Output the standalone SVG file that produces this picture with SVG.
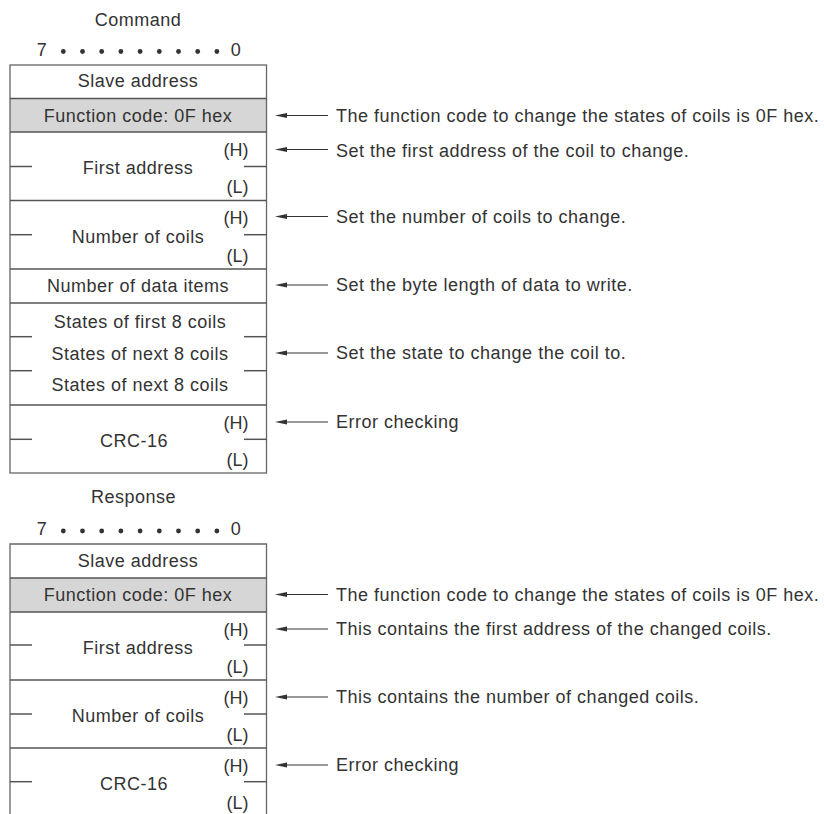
<svg xmlns="http://www.w3.org/2000/svg" width="824" height="814" viewBox="0 0 824 814">
<style>
text{font-family:"Liberation Sans",Arial,sans-serif;font-size:18px;letter-spacing:0.5px;fill:#333}
.c{text-anchor:middle}
.r{text-anchor:end;letter-spacing:0}
.box{fill:none;stroke:#666;stroke-width:1.3}
.div{stroke:#555;stroke-width:1.5}
.tick{stroke:#555;stroke-width:1.5}
.fc{fill:#d6d6d6;stroke:none}
.arr{stroke:#333;stroke-width:1}
.dot{fill:#333}
</style>
<defs>
<marker id="ah" viewBox="0 0 12 6" refX="0" refY="3" markerWidth="12" markerHeight="6" markerUnits="userSpaceOnUse" orient="auto">
<path d="M12,3 L0,0.6 L0,5.4 Z" fill="#333"/>
</marker>
<g id="bits">
<text x="42" y="0" class="c">7</text>
<circle class="dot" cx="63.3" cy="-4" r="2.4"/>
<circle class="dot" cx="82.5" cy="-4" r="2.4"/>
<circle class="dot" cx="101.7" cy="-4" r="2.4"/>
<circle class="dot" cx="120.9" cy="-4" r="2.4"/>
<circle class="dot" cx="140.1" cy="-4" r="2.4"/>
<circle class="dot" cx="159.3" cy="-4" r="2.4"/>
<circle class="dot" cx="178.5" cy="-4" r="2.4"/>
<circle class="dot" cx="197.7" cy="-4" r="2.4"/>
<circle class="dot" cx="216.9" cy="-4" r="2.4"/>
<text x="236" y="0" class="c">0</text>
</g>
</defs>

<!-- Command -->
<g id="command-title"><text x="138" y="25.5" class="c">Command</text></g>
<g id="command-bits"><use href="#bits" y="55.5"/></g>

<g id="command-table">
<rect class="fc" x="10" y="98.5" width="256.5" height="33.5"/>
<rect class="box" x="10" y="65" width="256.5" height="408"/>
<g id="c-slave"><text x="138" y="87" class="c">Slave address</text></g>
<line class="div" x1="10" y1="98.5" x2="266.5" y2="98.5"/>
<g id="c-func"><text x="138" y="121.5" class="c">Function code: 0F hex</text></g>
<line class="div" x1="10" y1="132" x2="266.5" y2="132"/>
<g id="c-first">
<text x="248.5" y="155.5" class="r">(H)</text>
<text x="138" y="174" class="c">First address</text>
<text x="248.5" y="193" class="r">(L)</text>
<line class="tick" x1="10" y1="166.5" x2="32" y2="166.5"/>
<line class="tick" x1="244" y1="166.5" x2="266.5" y2="166.5"/>
</g>
<line class="div" x1="10" y1="200.5" x2="266.5" y2="200.5"/>
<g id="c-coils">
<text x="248.5" y="224" class="r">(H)</text>
<text x="138" y="242.5" class="c">Number of coils</text>
<text x="248.5" y="261.5" class="r">(L)</text>
<line class="tick" x1="10" y1="234.7" x2="32" y2="234.7"/>
<line class="tick" x1="244" y1="234.7" x2="266.5" y2="234.7"/>
</g>
<line class="div" x1="10" y1="269" x2="266.5" y2="269"/>
<g id="c-data"><text x="138" y="291.5" class="c">Number of data items</text></g>
<line class="div" x1="10" y1="303" x2="266.5" y2="303"/>
<g id="c-states">
<text x="140" y="327.5" class="c">States of first 8 coils</text>
<text x="140" y="359.5" class="c">States of next 8 coils</text>
<text x="140" y="391" class="c">States of next 8 coils</text>
<line class="tick" x1="10" y1="336.7" x2="32" y2="336.7"/>
<line class="tick" x1="244" y1="336.7" x2="266.5" y2="336.7"/>
<line class="tick" x1="10" y1="370.7" x2="32" y2="370.7"/>
<line class="tick" x1="244" y1="370.7" x2="266.5" y2="370.7"/>
</g>
<line class="div" x1="10" y1="405" x2="266.5" y2="405"/>
<g id="c-crc">
<text x="248.5" y="428.5" class="r">(H)</text>
<text x="134" y="447" class="c">CRC-16</text>
<text x="248.5" y="466" class="r">(L)</text>
<line class="tick" x1="10" y1="439.3" x2="32" y2="439.3"/>
<line class="tick" x1="244" y1="439.3" x2="266.5" y2="439.3"/>
</g>
</g>

<!-- Response -->
<g id="response-title"><text x="133.5" y="502.5" class="c">Response</text></g>
<g id="response-bits"><use href="#bits" y="535"/></g>

<g id="response-table">
<rect class="fc" x="10" y="578" width="256.5" height="34"/>
<path class="box" d="M10,814 V544 H266.5 V814"/>
<g id="r-slave"><text x="138" y="566.5" class="c">Slave address</text></g>
<line class="div" x1="10" y1="578" x2="266.5" y2="578"/>
<g id="r-func"><text x="138" y="600.5" class="c">Function code: 0F hex</text></g>
<line class="div" x1="10" y1="612" x2="266.5" y2="612"/>
<g id="r-first">
<text x="248.5" y="635.5" class="r">(H)</text>
<text x="138" y="653.5" class="c">First address</text>
<text x="248.5" y="672.5" class="r">(L)</text>
<line class="tick" x1="10" y1="645" x2="32" y2="645"/>
<line class="tick" x1="244" y1="645" x2="266.5" y2="645"/>
</g>
<line class="div" x1="10" y1="680" x2="266.5" y2="680"/>
<g id="r-coils">
<text x="248.5" y="703.5" class="r">(H)</text>
<text x="138" y="722" class="c">Number of coils</text>
<text x="248.5" y="741" class="r">(L)</text>
<line class="tick" x1="10" y1="714" x2="32" y2="714"/>
<line class="tick" x1="244" y1="714" x2="266.5" y2="714"/>
</g>
<line class="div" x1="10" y1="748" x2="266.5" y2="748"/>
<g id="r-crc">
<text x="248.5" y="771.5" class="r">(H)</text>
<text x="134" y="789.5" class="c">CRC-16</text>
<text x="248.5" y="809" class="r">(L)</text>
<line class="tick" x1="10" y1="781.7" x2="32" y2="781.7"/>
<line class="tick" x1="244" y1="781.7" x2="266.5" y2="781.7"/>
</g>
</g>

<!-- Connectors -->
<g id="connectors">
<line class="arr" x1="328" y1="115.5" x2="287" y2="115.5" marker-end="url(#ah)"/>
<line class="arr" x1="328" y1="149.5" x2="287" y2="149.5" marker-end="url(#ah)"/>
<line class="arr" x1="328" y1="216.5" x2="287" y2="216.5" marker-end="url(#ah)"/>
<line class="arr" x1="328" y1="285" x2="287" y2="285" marker-end="url(#ah)"/>
<line class="arr" x1="328" y1="353" x2="287" y2="353" marker-end="url(#ah)"/>
<line class="arr" x1="328" y1="422" x2="287" y2="422" marker-end="url(#ah)"/>
<line class="arr" x1="328" y1="594.5" x2="287" y2="594.5" marker-end="url(#ah)"/>
<line class="arr" x1="328" y1="629" x2="287" y2="629" marker-end="url(#ah)"/>
<line class="arr" x1="328" y1="697" x2="287" y2="697" marker-end="url(#ah)"/>
<line class="arr" x1="328" y1="765" x2="287" y2="765" marker-end="url(#ah)"/>
</g>

<!-- Annotations -->
<g id="notes">
<text x="336" y="122">The function code to change the states of coils is 0F hex.</text>
<text x="336" y="156.5">Set the first address of the coil to change.</text>
<text x="336" y="222.7">Set the number of coils to change.</text>
<text x="336" y="291">Set the byte length of data to write.</text>
<text x="336" y="359.3">Set the state to change the coil to.</text>
<text x="336" y="427.5">Error checking</text>
<text x="336" y="600.5">The function code to change the states of coils is 0F hex.</text>
<text x="336" y="635">This contains the first address of the changed coils.</text>
<text x="336" y="702.7">This contains the number of changed coils.</text>
<text x="336" y="771">Error checking</text>
</g>
</svg>
